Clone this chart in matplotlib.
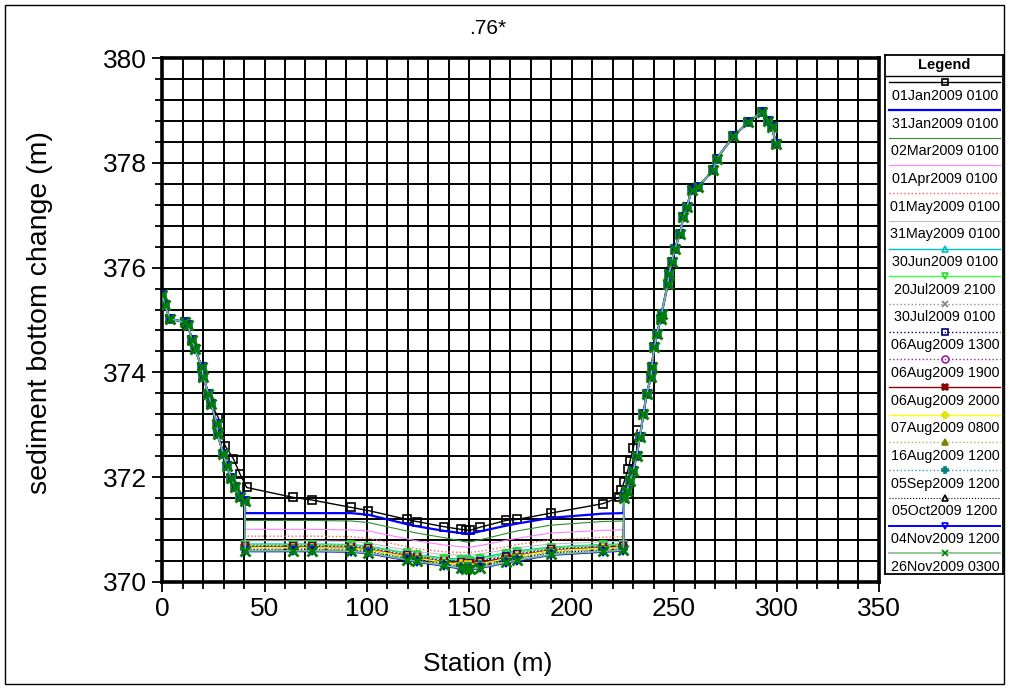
import matplotlib
matplotlib.use("Agg")
import matplotlib.pyplot as plt
from matplotlib.ticker import MultipleLocator
from matplotlib.patches import Rectangle

plt.rcParams['font.family'] = ['Liberation Sans', 'DejaVu Sans']

# banks shared by all eroded profiles
lb_x = [0.0, 1.4, 3.9, 11.2, 12.8, 14.5, 16.1, 19.3, 20.1, 22.6, 23.9, 26.7, 27.1, 29.9, 31.5, 33.6, 35.6, 38.0, 40.3]
lb_y = [375.47, 375.28, 375.02, 374.96, 374.90, 374.61, 374.45, 374.10, 373.91, 373.59, 373.40, 373.02, 372.82,
        372.44, 372.22, 371.99, 371.80, 371.61, 371.55]
rb_x = [225.6, 226.9, 228.5, 230.1, 231.7, 233.3, 235.0, 236.6, 238.7, 239.1, 240.3, 241.5, 243.6, 243.9, 246.9,
        247.5, 248.8, 250.4, 252.9, 254.5, 256.2, 258.6, 261.8, 269.1, 270.8, 278.9, 286.2, 292.8, 296.0, 297.7, 299.8]
rb_y = [371.60, 371.74, 371.93, 372.12, 372.41, 372.76, 373.20, 373.59, 373.91, 374.10, 374.48, 374.74, 375.02,
        375.12, 375.69, 375.88, 376.11, 376.36, 376.65, 376.97, 377.16, 377.48, 377.55, 377.86, 378.08, 378.51,
        378.78, 378.97, 378.81, 378.69, 378.37]

# channel nodes
ch_x = [40.6, 64.1, 73.3, 92.2, 100.7, 119.4, 124.3, 137.8, 145.8, 148.4, 150.3, 155.2, 167.9, 173.4, 189.7, 215.1, 225.2]

# initial profile (01Jan2009)
init_x = [0.0, 1.4, 3.9, 11.2, 12.8, 14.5, 16.1, 19.3, 20.1, 22.6, 23.9, 27.5, 30.7, 34.8, 38.0,
          41.3, 64.1, 73.3, 92.2, 100.7, 119.4, 124.3, 137.8, 145.8, 148.4, 150.3, 155.2, 167.9, 173.4, 189.7,
          215.1, 223.2, 224.3, 225.5, 227.6, 228.5, 230.1, 232.0]
init_y = [375.47, 375.28, 375.02, 374.96, 374.90, 374.61, 374.45, 374.10, 373.91, 373.59, 373.40, 373.13, 372.60,
          372.35, 372.06, 371.80, 371.61, 371.56, 371.42, 371.36, 371.19, 371.15, 371.05, 371.00, 370.99, 370.98,
          371.04, 371.17, 371.19, 371.31, 371.49, 371.61, 371.76, 371.90, 372.15, 372.31, 372.56, 372.90]

jan31 = [371.31, 371.31, 371.31, 371.31, 371.28, 371.10, 371.06, 370.97, 370.93, 370.92, 370.92, 370.96, 371.07, 371.11, 371.22, 371.30, 371.31]
mar02 = [371.17, 371.17, 371.17, 371.16, 371.13, 370.97, 370.93, 370.84, 370.78, 370.76, 370.76, 370.80, 370.92, 370.97, 371.08, 371.15, 371.16]
apr01 = [371.00, 371.00, 371.00, 370.99, 370.97, 370.82, 370.78, 370.70, 370.67, 370.66, 370.66, 370.69, 370.79, 370.83, 370.93, 370.98, 370.99]
may01 = [370.87, 370.87, 370.87, 370.86, 370.83, 370.67, 370.63, 370.57, 370.56, 370.56, 370.56, 370.58, 370.67, 370.71, 370.80, 370.85, 370.86]
may31 = [370.78, 370.78, 370.78, 370.77, 370.74, 370.60, 370.57, 370.52, 370.51, 370.51, 370.51, 370.53, 370.61, 370.65, 370.72, 370.76, 370.77]
jun30 = [370.72, 370.72, 370.72, 370.71, 370.68, 370.55, 370.52, 370.45, 370.43, 370.43, 370.43, 370.46, 370.55, 370.59, 370.66, 370.71, 370.72]
jul20 = [370.71, 370.71, 370.71, 370.70, 370.67, 370.54, 370.51, 370.43, 370.41, 370.40, 370.40, 370.43, 370.53, 370.57, 370.65, 370.70, 370.71]
jul30 = [370.70, 370.70, 370.70, 370.69, 370.66, 370.53, 370.50, 370.42, 370.39, 370.38, 370.38, 370.41, 370.51, 370.55, 370.64, 370.69, 370.70]
aug06a = [370.68, 370.68, 370.68, 370.67, 370.64, 370.51, 370.48, 370.40, 370.37, 370.36, 370.36, 370.39, 370.49, 370.53, 370.62, 370.67, 370.68]
aug06b = [370.67, 370.67, 370.67, 370.66, 370.63, 370.50, 370.47, 370.39, 370.36, 370.35, 370.34, 370.37, 370.47, 370.52, 370.61, 370.66, 370.67]
aug06c = [370.66, 370.66, 370.66, 370.65, 370.62, 370.49, 370.46, 370.38, 370.34, 370.33, 370.33, 370.36, 370.46, 370.50, 370.60, 370.65, 370.66]
aug07 = [370.65, 370.65, 370.65, 370.64, 370.61, 370.48, 370.45, 370.37, 370.33, 370.32, 370.31, 370.34, 370.44, 370.49, 370.59, 370.64, 370.65]
aug16 = [370.64, 370.64, 370.64, 370.63, 370.60, 370.47, 370.44, 370.35, 370.31, 370.30, 370.30, 370.33, 370.43, 370.47, 370.57, 370.63, 370.64]
sep05 = [370.62, 370.62, 370.62, 370.61, 370.58, 370.45, 370.42, 370.34, 370.29, 370.28, 370.28, 370.31, 370.41, 370.45, 370.56, 370.61, 370.62]
oct05 = [370.61, 370.61, 370.61, 370.60, 370.57, 370.44, 370.41, 370.33, 370.28, 370.27, 370.27, 370.30, 370.40, 370.44, 370.55, 370.60, 370.61]
nov04 = [370.58, 370.58, 370.58, 370.57, 370.54, 370.41, 370.38, 370.30, 370.25, 370.24, 370.23, 370.26, 370.36, 370.40, 370.51, 370.57, 370.59]
nov26 = [370.59, 370.59, 370.59, 370.58, 370.55, 370.42, 370.39, 370.31, 370.26, 370.25, 370.24, 370.27, 370.37, 370.41, 370.52, 370.58, 370.60]

labels = ["01Jan2009 0100", "31Jan2009 0100", "02Mar2009 0100", "01Apr2009 0100", "01May2009 0100",
          "31May2009 0100", "30Jun2009 0100", "20Jul2009 2100", "30Jul2009 0100", "06Aug2009 1300",
          "06Aug2009 1900", "06Aug2009 2000", "07Aug2009 0800", "16Aug2009 1200", "05Sep2009 1200",
          "05Oct2009 1200", "04Nov2009 1200", "26Nov2009 0300"]
channels = [None, jan31, mar02, apr01, may01, may31, jun30, jul20, jul30, aug06a, aug06b, aug06c,
            aug07, aug16, sep05, oct05, nov04, nov26]

# (line color, linestyle, linewidth, marker, marker edge, marker face, marker size)
styles = [
    ("black", "-", 1.0, "s", "black", "none", 5.5),
    ("#0000FF", "-", 1.6, None, None, None, 0),
    ("#2E8B2E", "-", 0.8, None, None, None, 0),
    ("#FF80FF", "-", 0.8, None, None, None, 0),
    ("#FF6060", ":", 1.0, None, None, None, 0),
    ("#C0C0C0", "-", 0.8, None, None, None, 0),
    ("#00C0C0", "-", 1.0, "^", "#00C0C0", "none", 5.5),
    ("#40FF40", "-", 1.0, "v", "#20E020", "none", 5.5),
    ("#909090", ":", 1.0, "x", "#808080", "none", 5.5),
    ("#000080", ":", 1.0, "s", "#000080", "none", 4.5),
    ("#A020A0", ":", 1.0, "o", "#A020A0", "none", 4.5),
    ("#8B0000", "-", 1.0, "X", "#8B0000", "#8B0000", 5.5),
    ("#FFFF00", "-", 1.0, "P", "#E0E000", "#FFFF00", 5.5),
    ("#B0B070", ":", 1.0, "^", "#808000", "#808000", 5.0),
    ("#40A0A0", ":", 1.0, "P", "#008080", "#008080", 5.5),
    ("black", ":", 0.8, "^", "black", "none", 5.0),
    ("#0000FF", "-", 1.4, "v", "#0000FF", "none", 5.5),
    ("#80C080", "-", 1.2, "x", "#008000", "none", 7.0),
]

fig = plt.figure(figsize=(10.09, 6.89), dpi=100)
fig.patches.append(Rectangle((5 / 1009, 5 / 689), 999 / 1009, 679 / 689, transform=fig.transFigure,
                             fill=False, edgecolor="black", linewidth=1.0))

ax = fig.add_axes([162.1 / 1009, 1 - 581.7 / 689, 716.8 / 1009, 523.4 / 689])

for i, (lab, ch) in enumerate(zip(labels, channels)):
    col, ls, lw, mk, mec, mfc, ms = styles[i]
    if ch is None:
        xs, ys = init_x, init_y
    else:
        xs = lb_x + ch_x + rb_x
        ys = lb_y + ch + rb_y
    mew = 2.0 if mk == "x" else 1.2
    ax.plot(xs, ys, color=col, linestyle=ls, linewidth=lw, marker=mk, markeredgecolor=mec,
            markerfacecolor=mfc, markersize=ms, markeredgewidth=mew, zorder=3 + i)

ax.set_xlim(0, 350)
ax.set_ylim(370, 380)
ax.xaxis.set_major_locator(MultipleLocator(50))
ax.xaxis.set_minor_locator(MultipleLocator(10))
ax.yaxis.set_major_locator(MultipleLocator(2))
ax.yaxis.set_minor_locator(MultipleLocator(0.4))
ax.grid(True, which="both", color="black", linewidth=1.4)
ax.set_axisbelow(True)
for s in ax.spines.values():
    s.set_linewidth(2.6)
ax.tick_params(which="major", direction="out", length=7, width=1.3, labelsize=19, pad=4)
ax.tick_params(which="minor", direction="out", length=5, width=1.3)
fig.canvas.draw()
ax.get_xticklabels()[-1].set_horizontalalignment("right")

fig.text(488 / 1009, 1 - 664 / 689, "Station (m)", ha="center", va="center", fontsize=19)
fig.text(40 / 1009, 1 - 313 / 689, "sediment bottom change (m)", ha="center", va="center",
         rotation=90, fontsize=20.5)
fig.text(488 / 1009, 1 - 28 / 689, ".76*", ha="center", va="center", fontsize=15)

# legend box
lax = fig.add_axes([885 / 1009, 1 - 574 / 689, 118 / 1009, 519 / 689])
lax.set_xlim(885, 1003)
lax.set_ylim(574, 55)
lax.set_xticks([])
lax.set_yticks([])
for s in lax.spines.values():
    s.set_linewidth(1.3)
lax.text(944, 65.5, "Legend", ha="center", va="center", fontsize=10.5, fontweight="bold")
lax.plot([885, 1003], [75.7, 75.7], color="black", linewidth=1.0)
for i, lab in enumerate(labels):
    col, ls, lw, mk, mec, mfc, ms = styles[i]
    yl = 82.3 + 27.7 * i
    lax.plot([889, 1000], [yl, yl], color=col, linestyle=ls, linewidth=lw)
    if mk is not None:
        lax.plot([945], [yl], marker=mk, markeredgecolor=mec, markerfacecolor=mfc,
                 markersize=5, markeredgewidth=1.2, linestyle="none")
    lax.text(945, yl + 13.5, lab, ha="center", va="center", fontsize=10.3)

fig.savefig("out.png", dpi=100)
